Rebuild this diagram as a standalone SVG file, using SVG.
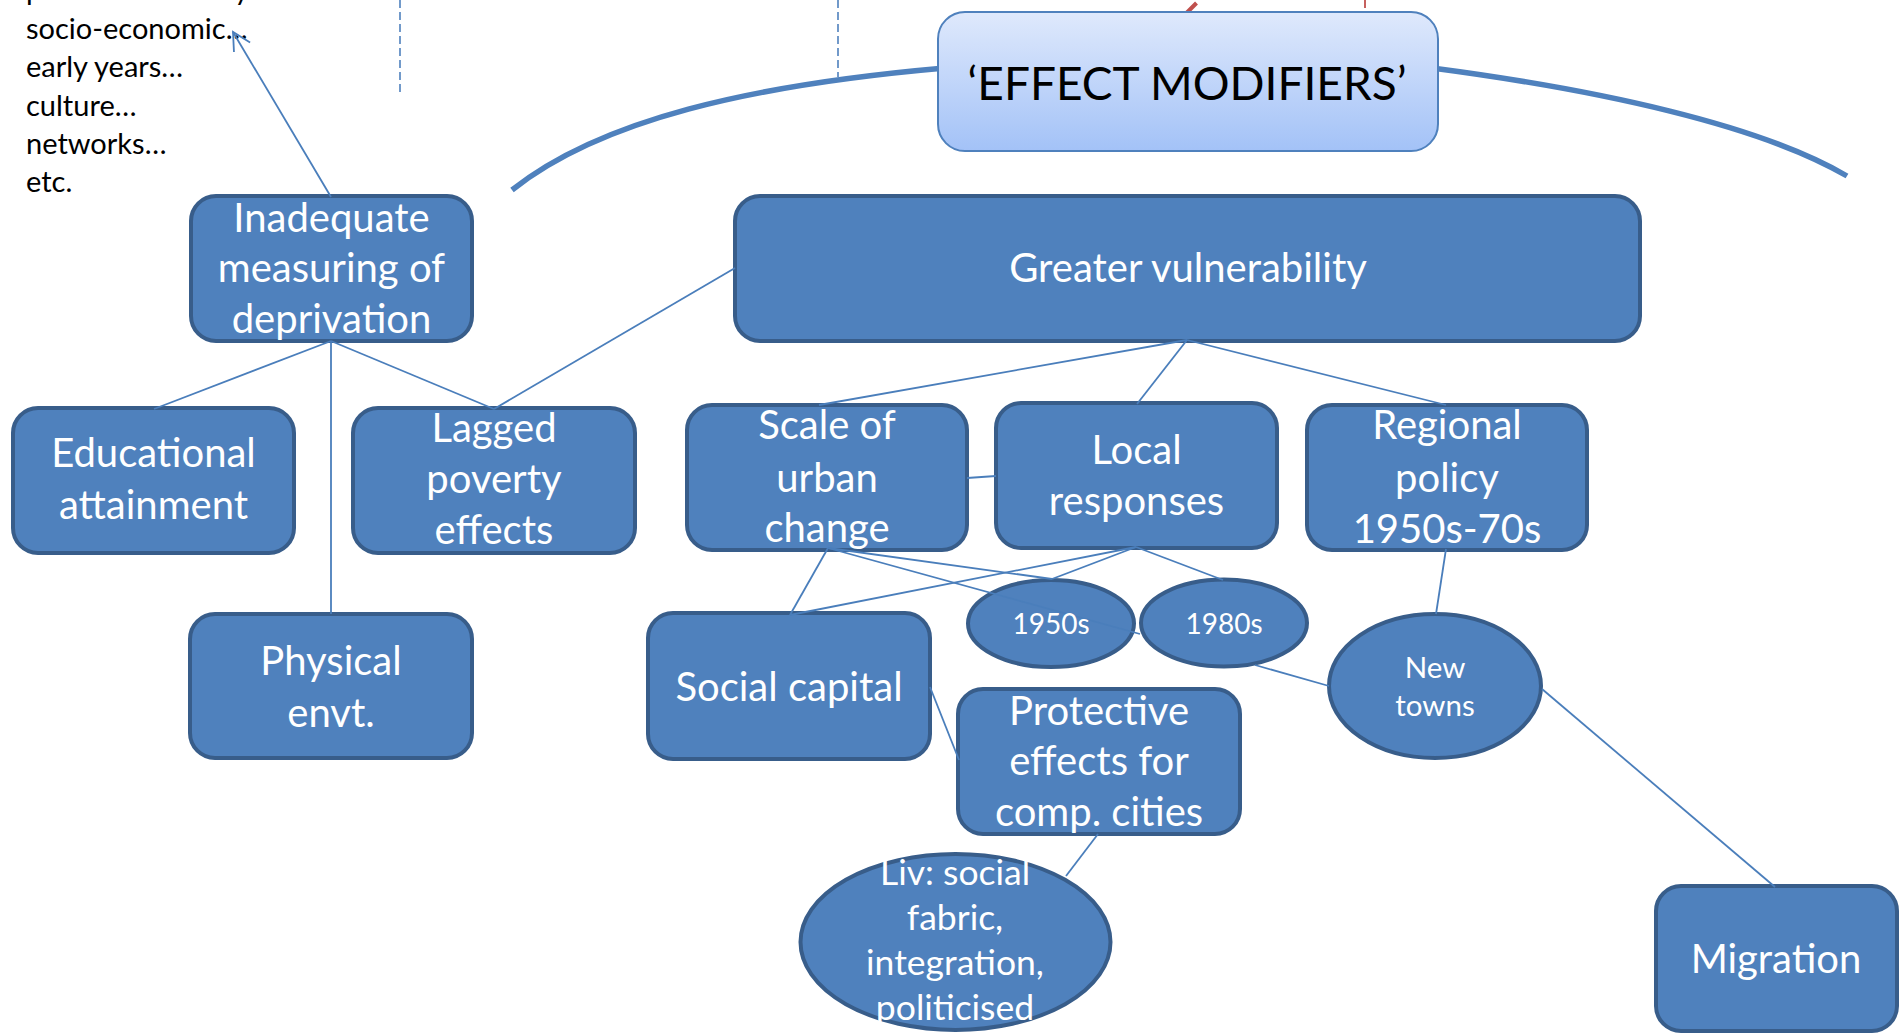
<svg xmlns="http://www.w3.org/2000/svg" width="1899" height="1033" viewBox="0 0 1899 1033">
<style>
text{font-family:Lato,"Liberation Sans",sans-serif}
.box{fill:#4f81bd;stroke:#385d8a;stroke-width:4}
.lbl{fill:#ffffff;font-size:40px;text-anchor:middle}
.sm{font-size:28px}
.nt{font-size:29.5px}
.liv{font-size:35.5px}
.note{fill:#000000;font-size:29px}
.con{stroke:#4a7ebb;stroke-width:1.8;fill:none}
.dash{stroke:#4f81bd;stroke-width:1.6;stroke-dasharray:8 4;fill:none}
.arc{stroke:#4f81bd;stroke-width:5.5;fill:none}
</style>
<defs>
<linearGradient id="g1" x1="0" y1="0" x2="0" y2="1">
<stop offset="0" stop-color="#dfe9fc"/>
<stop offset="1" stop-color="#a3c2f7"/>
</linearGradient>
<marker id="arr" markerUnits="userSpaceOnUse" viewBox="-20 -12 22 24" refX="0" refY="0" markerWidth="22" markerHeight="24" orient="auto">
<path d="M-17.7,-9.4 L0,0 L-17.7,9.4" fill="none" stroke="#4a7ebb" stroke-width="1.8"/>
</marker>
</defs>

<g id="decor">
<line class="dash" x1="400" y1="0" x2="400" y2="92"/>
<line class="dash" x1="838" y1="0" x2="838" y2="77"/>
<line x1="1187" y1="12.5" x2="1196.5" y2="3" stroke="#c0504d" stroke-width="4"/>
<line x1="1365" y1="0" x2="1365" y2="8" stroke="#c0504d" stroke-width="1.8"/>
<path class="arc" d="M512,190 C600,120 750,85 945,68"/>
<path class="arc" d="M1432,68 C1600,90 1760,125 1847,176"/>
</g>

<g id="notes">
<text class="note" x="26" y="0">political economy</text>
<text class="note" x="26" y="39">socio-economic…</text>
<text class="note" x="26" y="77">early years…</text>
<text class="note" x="26" y="116">culture…</text>
<text class="note" x="26" y="154">networks…</text>
<text class="note" x="26" y="192">etc.</text>
</g>

<g id="effect-modifiers">
<rect x="938" y="12" width="500" height="139" rx="27" fill="url(#g1)" stroke="#4f81bd" stroke-width="2"/>
<text x="1187" y="100" font-size="46" text-anchor="middle" fill="#000000">‘EFFECT MODIFIERS’</text>
</g>

<g id="inadequate">
<rect class="box" x="191" y="196" width="281" height="145" rx="25"/>
<text class="lbl" x="331.5" y="232">Inadequate</text>
<text class="lbl" x="331.5" y="282">measuring of</text>
<text class="lbl" x="331.5" y="333">deprivation</text>
</g>

<g id="greater-vulnerability">
<rect class="box" x="735" y="196" width="905" height="145" rx="25"/>
<text class="lbl" x="1188" y="282">Greater vulnerability</text>
</g>

<g id="educational">
<rect class="box" x="13" y="408" width="281" height="145" rx="25"/>
<text class="lbl" x="153.5" y="467">Educational</text>
<text class="lbl" x="153.5" y="519">attainment</text>
</g>

<g id="lagged">
<rect class="box" x="353" y="408" width="282" height="145" rx="25"/>
<text class="lbl" x="494" y="442">Lagged</text>
<text class="lbl" x="494" y="493">poverty</text>
<text class="lbl" x="494" y="544">effects</text>
</g>

<g id="physical">
<rect class="box" x="190" y="614" width="282" height="144" rx="25"/>
<text class="lbl" x="331" y="675">Physical</text>
<text class="lbl" x="331" y="727">envt.</text>
</g>

<g id="scale">
<rect class="box" x="687" y="405" width="280" height="145" rx="25"/>
<text class="lbl" x="827" y="439">Scale of</text>
<text class="lbl" x="827" y="492">urban</text>
<text class="lbl" x="827" y="542">change</text>
</g>

<g id="local">
<rect class="box" x="996" y="403" width="281" height="145" rx="25"/>
<text class="lbl" x="1136.5" y="464">Local</text>
<text class="lbl" x="1136.5" y="515">responses</text>
</g>

<g id="regional">
<rect class="box" x="1307" y="405" width="280" height="145" rx="25"/>
<text class="lbl" x="1447" y="439">Regional</text>
<text class="lbl" x="1447" y="492">policy</text>
<text class="lbl" x="1447" y="543">1950s-70s</text>
</g>

<g id="social-capital">
<rect class="box" x="648" y="613" width="282" height="146" rx="25"/>
<text class="lbl" x="789" y="701">Social capital</text>
</g>

<g id="protective">
<rect class="box" x="958" y="689" width="282" height="145" rx="25"/>
<text class="lbl" x="1099" y="725">Protective</text>
<text class="lbl" x="1099" y="775">effects for</text>
<text class="lbl" x="1099" y="826">comp. cities</text>
</g>

<g id="migration">
<rect class="box" x="1656" y="886" width="241" height="145" rx="25"/>
<text class="lbl" x="1776" y="973">Migration</text>
</g>

<g id="new-towns">
<ellipse class="box" cx="1435" cy="686" rx="106" ry="72"/>
<text class="lbl nt" x="1435" y="678">New</text>
<text class="lbl nt" x="1435" y="716">towns</text>
</g>

<g id="liv">
<ellipse class="box" cx="955.5" cy="942" rx="155" ry="88"/>
<text class="lbl liv" x="955" y="885">Liv: social</text>
<text class="lbl liv" x="955" y="930">fabric,</text>
<text class="lbl liv" x="955" y="975">integration,</text>
<text class="lbl liv" x="955" y="1020">politicised</text>
</g>

<g id="y1950s">
<ellipse class="box" cx="1051" cy="623.5" rx="83" ry="43.5"/>
</g>
<g id="y1980s">
<ellipse class="box" cx="1224" cy="623" rx="83" ry="43.5"/>
<text class="lbl sm" x="1224" y="634">1980s</text>
</g>

<g id="connectors">
<line class="con" x1="331" y1="197" x2="233" y2="32" marker-end="url(#arr)"/>
<line class="con" x1="331" y1="341" x2="154" y2="409"/>
<line class="con" x1="331" y1="341" x2="494" y2="409"/>
<line class="con" x1="331" y1="341" x2="331" y2="614"/>
<line class="con" x1="735" y1="268" x2="494" y2="409"/>
<line class="con" x1="1187" y1="340" x2="819" y2="405"/>
<line class="con" x1="1187" y1="340" x2="1137" y2="404"/>
<line class="con" x1="1187" y1="340" x2="1446" y2="405"/>
<line class="con" x1="967" y1="478" x2="996" y2="476"/>
<line class="con" x1="828" y1="548" x2="790" y2="615"/>
<line class="con" x1="828" y1="548" x2="1052" y2="579"/>
<line class="con" x1="828" y1="548" x2="1140" y2="634"/>
<line class="con" x1="1136" y1="547" x2="790" y2="615"/>
<line class="con" x1="1136" y1="547" x2="1052" y2="579"/>
<line class="con" x1="1136" y1="547" x2="1223" y2="580"/>
<line class="con" x1="1255" y1="665" x2="1329" y2="686"/>
<line class="con" x1="1446" y1="549" x2="1436" y2="614"/>
<line class="con" x1="1542" y1="689" x2="1775" y2="887"/>
<line class="con" x1="930" y1="687" x2="959" y2="760"/>
<line class="con" x1="1098" y1="834" x2="1066" y2="876"/>
</g>

<g id="y1950s-label">
<text class="lbl sm" x="1051" y="634">1950s</text>
</g>
</svg>
